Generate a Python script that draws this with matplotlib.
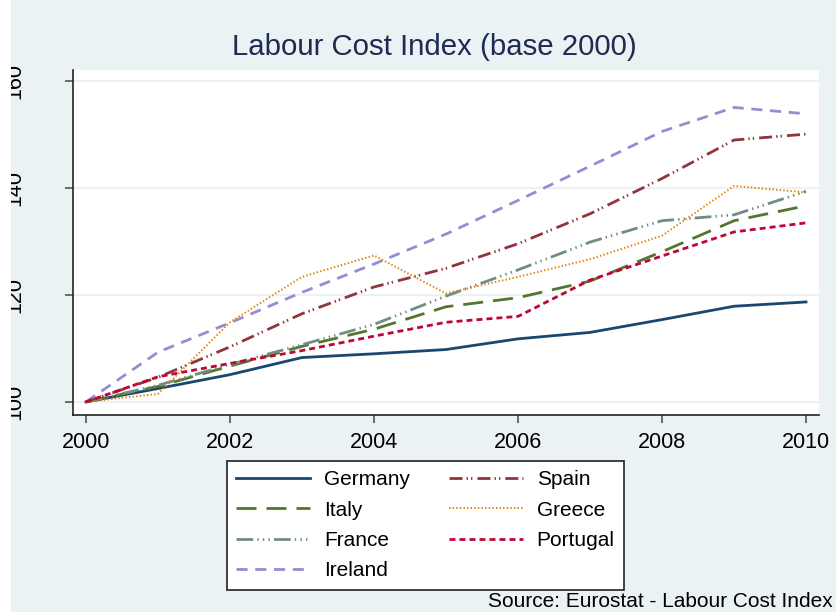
import numpy as np
import matplotlib
matplotlib.use("Agg")
import matplotlib.pyplot as plt
from matplotlib.patches import Rectangle

plt.rcParams['font.family'] = ['Liberation Sans', 'DejaVu Sans']
plt.rcParams['lines.scale_dashes'] = False

years = np.arange(2000, 2011)
germany = [100, 102.5, 105.1, 108.3, 109.0, 109.8, 111.8, 113.0, 115.4, 117.9, 118.7]
spain = [100, 104.6, 110.3, 116.5, 121.5, 125.0, 129.6, 135.2, 141.8, 149.0, 150.1]
italy = [100, 102.9, 106.7, 110.4, 113.6, 117.8, 119.5, 122.6, 128.1, 133.9, 136.7]
greece = [100, 101.5, 114.9, 123.4, 127.4, 120.3, 123.4, 126.7, 131.1, 140.4, 139.2]
france = [100, 103.1, 107.0, 110.7, 114.5, 119.8, 124.7, 129.9, 133.9, 135.0, 139.4]
portugal = [100, 104.7, 107.2, 109.6, 112.3, 114.9, 116.0, 122.8, 127.3, 131.8, 133.5]
ireland = [100, 109.3, 114.8, 120.5, 125.8, 131.4, 137.7, 144.1, 150.6, 155.1, 153.9]

bg = '#EAF2F3'
fig = plt.figure(figsize=(8.37, 6.12), dpi=100, facecolor=bg)
ax = fig.add_axes([73/837, 1-415/612, (819-73)/837, (415-70)/612])
ax.set_facecolor('white')

lw = 2.0
ax.plot(years, germany, color='#1A476F', lw=lw, label='Germany')
ax.plot(years, italy, color='#55752F', lw=lw, dashes=(14.4, 7.2), label='Italy')
ax.plot(years, france, color='#6E8E84', lw=lw, dashes=(12, 3, 1, 3, 1, 3, 1, 3), label='France')
ax.plot(years, ireland, color='#938DD2', lw=lw, dashes=(8, 5.5), label='Ireland')
ax.plot(years, spain, color='#90353B', lw=lw, dashes=(9.4, 2.9, 1, 2.2, 1, 3.6), label='Spain')
ax.plot(years, greece, color='#E37E00', lw=1.4, dashes=(1, 1.6), label='Greece')
ax.plot(years, portugal, color='#C10534', lw=lw, dashes=(4.3, 2.9), label='Portugal')

ax.set_xlim(1999.82, 2010.18)
ax.set_ylim(97.55, 162.1)
ax.set_xticks(range(2000, 2011, 2))
ax.set_yticks([100, 120, 140, 160])
ax.grid(axis='y', color=bg, lw=1.6)
ax.set_axisbelow(True)

for s in ['top', 'right']:
    ax.spines[s].set_visible(False)
for s in ['left', 'bottom']:
    ax.spines[s].set_color('#222222')
    ax.spines[s].set_linewidth(1.2)

ax.tick_params(axis='both', length=6, width=1.2, color='#555555', labelsize=15.5)
ax.tick_params(axis='x', pad=6)
ax.tick_params(axis='y', pad=28)
for t in ax.get_yticklabels():
    t.set_rotation(90)
    t.set_va('center')

fig.text(434/837, 1-47/612, 'Labour Cost Index (base 2000)', ha='center', va='center',
         fontsize=21.2, color='#1E2B52')

leg = ax.legend(loc='upper left', bbox_to_anchor=(227/837, 1-461/612),
                bbox_transform=fig.transFigure, ncol=2, fontsize=15,
                handlelength=3.55, handletextpad=0.67, columnspacing=1.85,
                labelspacing=0.54, borderpad=0.45, borderaxespad=0,
                fancybox=False, framealpha=1)
leg.get_frame().set_edgecolor('#222222')
leg.get_frame().set_linewidth(1.2)

fig.text(833/837, 1-607/612, 'Source: Eurostat - Labour Cost Index', ha='right',
         va='baseline', fontsize=15, color='black')

fig.patches.append(Rectangle((0, 0), 11/837, 1, transform=fig.transFigure,
                             facecolor='white', edgecolor='none', zorder=10))

fig.savefig('out.png', dpi=100, facecolor=bg)
